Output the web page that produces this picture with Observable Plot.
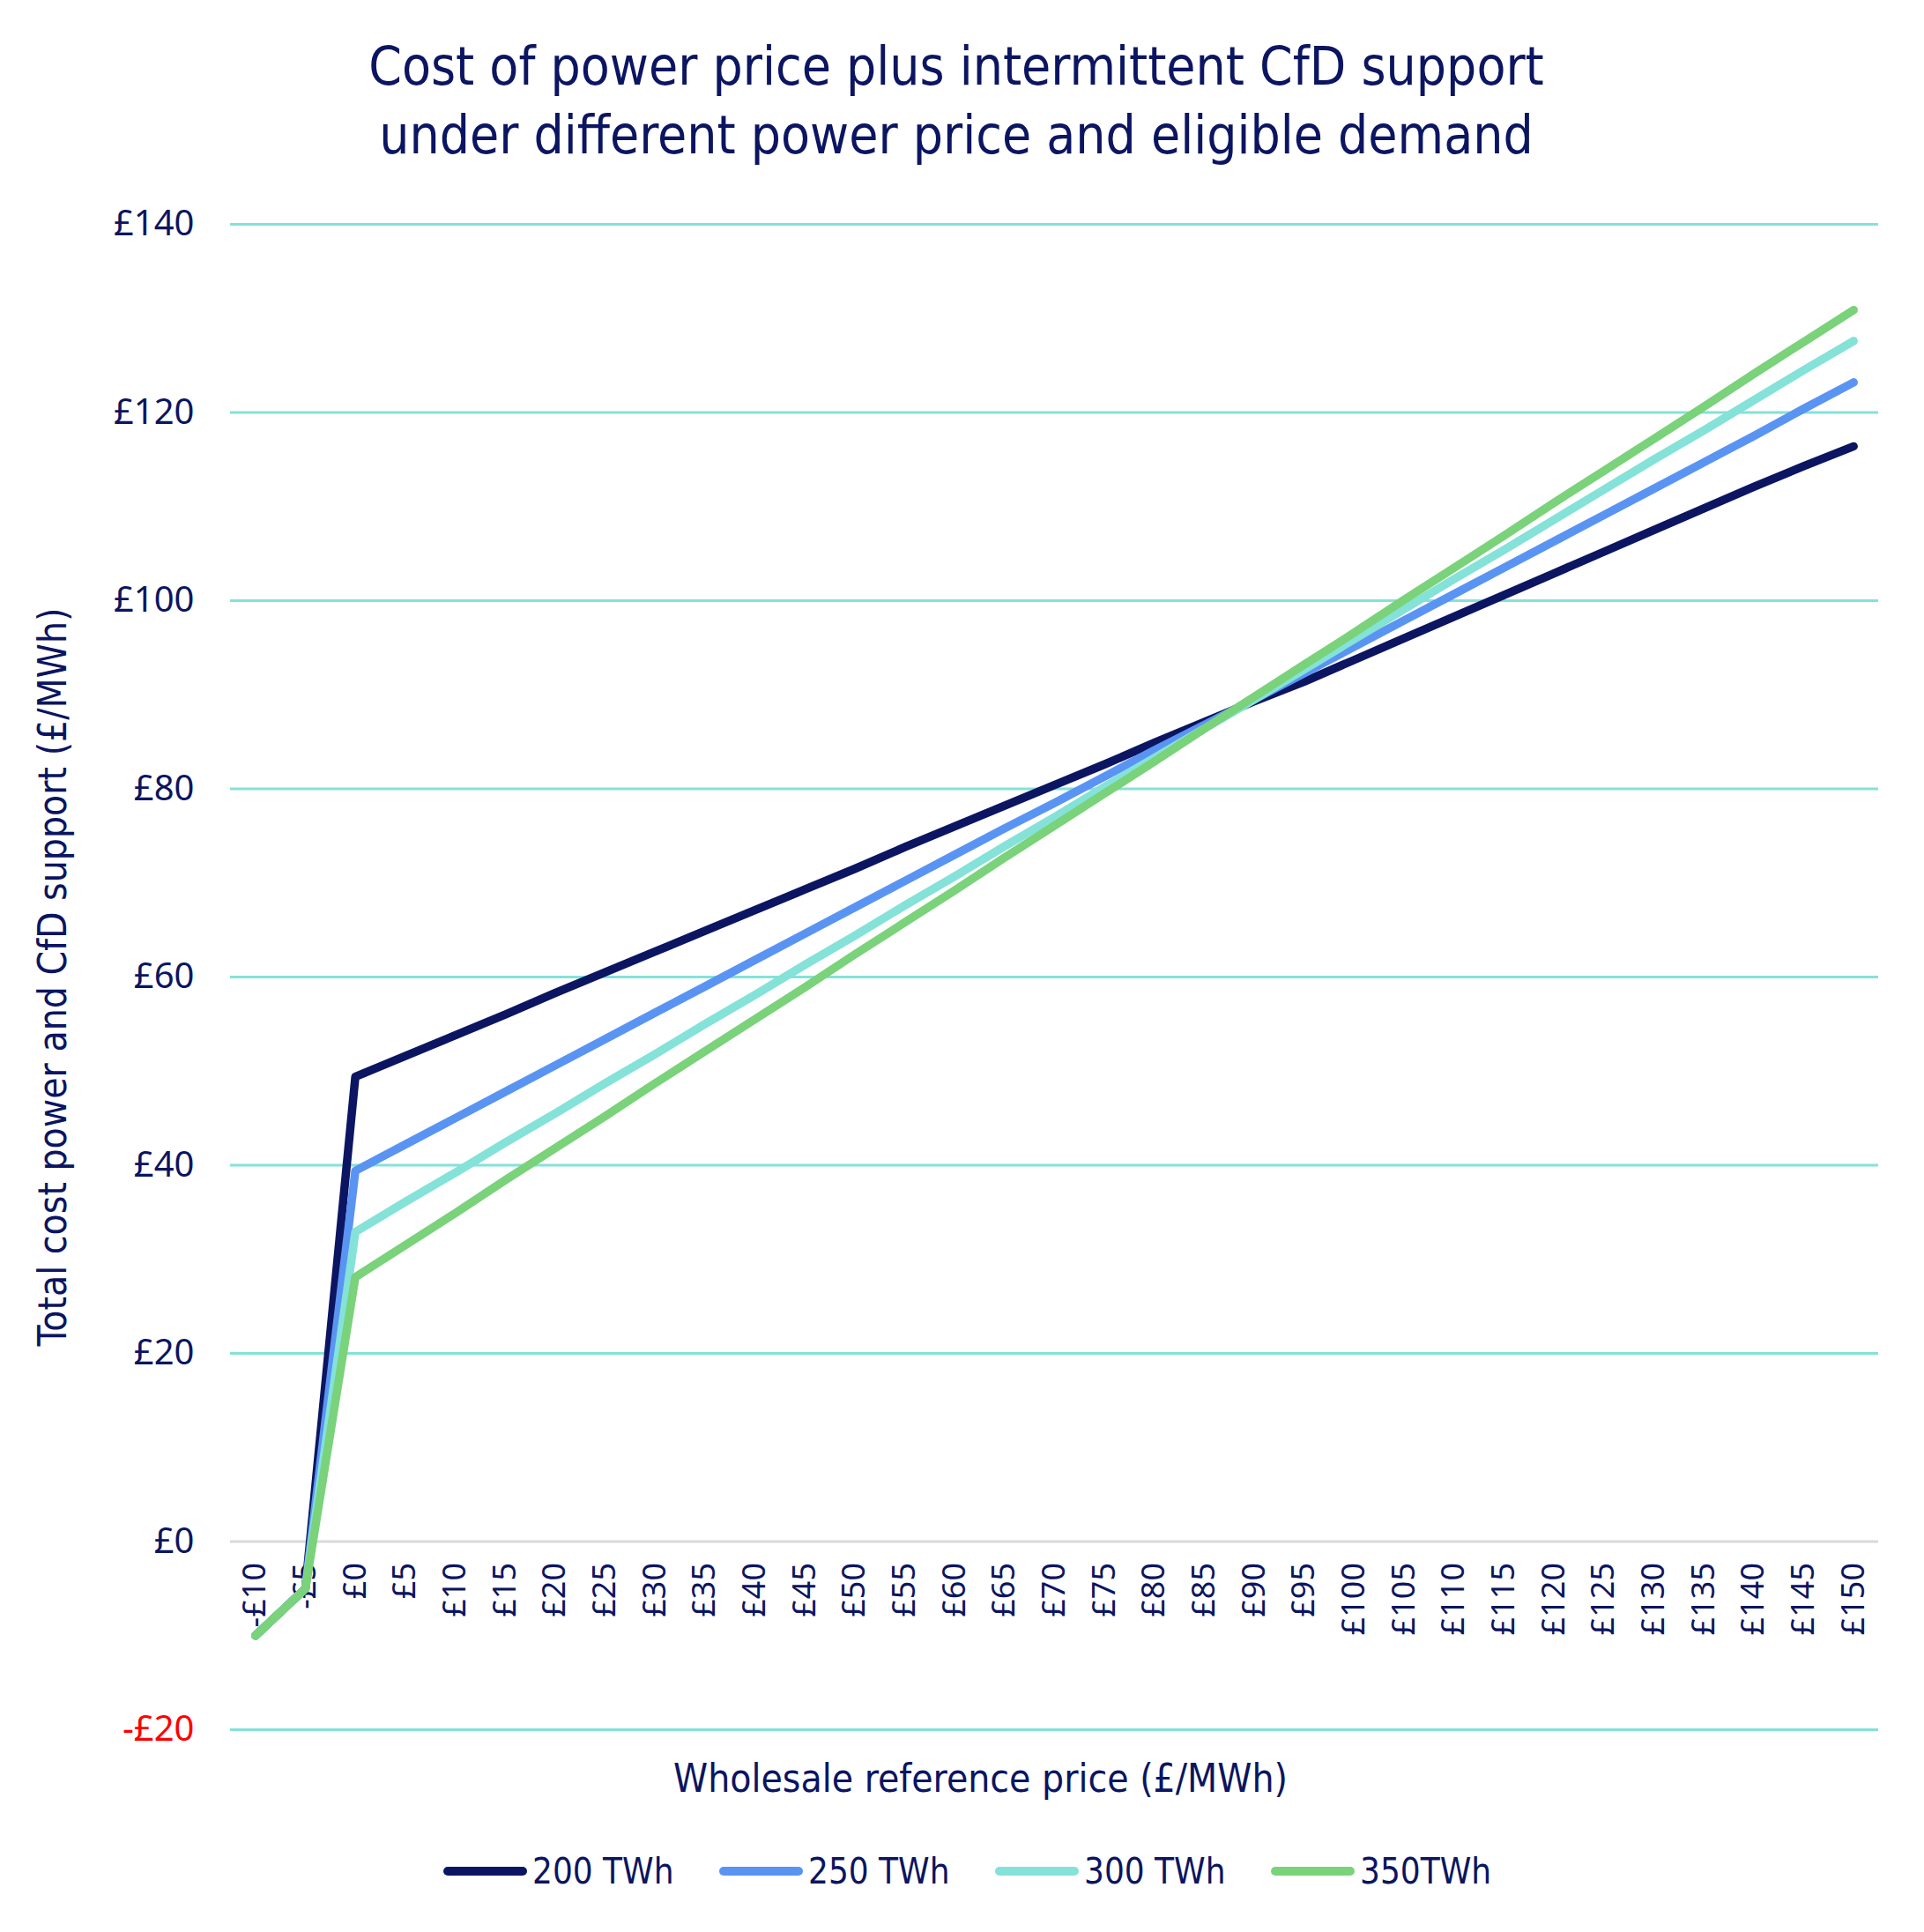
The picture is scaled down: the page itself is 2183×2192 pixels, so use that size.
<!DOCTYPE html>
<html><head><meta charset="utf-8">
<script src="https://cdn.jsdelivr.net/npm/d3@7"></script>
<script src="https://cdn.jsdelivr.net/npm/@observablehq/plot@0.6"></script>
<style>
body{margin:0;background:#fff;width:2183px;height:2192px;position:relative;overflow:hidden}
.cond{font-family:"Liberation Sans Narrow","DejaVu Sans Condensed","Roboto Condensed","Open Sans",sans-serif;font-stretch:condensed;color:#0b1561}
#title{position:absolute;left:0;width:2170px;top:36px;text-align:center;font-size:60px;line-height:78px}
#chart{position:absolute;left:0;top:200px}
#legend{position:absolute;top:2098px;left:503px;display:flex}
.item{display:flex;align-items:center;width:313px;font-size:40px;height:50px}
.sw{width:95px;height:10px;border-radius:5px;margin-right:6px}
</style></head>
<body>
<div id="title" class="cond">Cost of power price plus intermittent CfD support<br>under different power price and eligible demand</div>
<div id="chart"></div>
<div id="legend" class="cond"></div>
<script>
const prices = [-10,-5,0,5,10,15,20,25,30,35,40,45,50,55,60,65,70,75,80,85,90,95,100,105,110,115,120,125,130,135,140,145,150];
const yTicks = [-20,0,20,40,60,80,100,120,140];
const series = ["200 TWh","250 TWh","300 TWh","350TWh"];
const colors = ["#0b1561","#5a94f3","#84e2d8","#7ad27a"];
const v200 = [-10,-5,49.4,51.6,53.8,56.0,58.3,60.5,62.7,64.9,67.1,69.3,71.5,73.8,76.0,78.2,80.4,82.6,84.9,87.1,89.3,91.4,93.7,96.0,98.3,100.6,102.9,105.2,107.5,109.8,112.1,114.3,116.4];
const v250 = [-10,-5,39.4,42.2,45.0,47.8,50.6,53.4,56.2,59.0,61.8,64.6,67.4,70.2,73.0,75.8,78.5,81.3,84.1,86.8,89.5,92.3,95.1,97.9,100.7,103.5,106.3,109.1,111.9,114.7,117.5,120.4,123.2];
const v300 = [-10,-5,32.9,36.1,39.2,42.4,45.5,48.7,51.8,55.0,58.1,61.3,64.4,67.6,70.7,73.9,77.0,80.2,83.3,86.4,89.5,92.7,95.9,99.1,102.3,105.4,108.6,111.8,115.0,118.1,121.3,124.5,127.6];
const v350 = [-10,-5,28.1,31.5,34.9,38.4,41.8,45.2,48.7,52.1,55.5,58.9,62.4,65.8,69.2,72.7,76.1,79.5,82.9,86.4,89.8,93.2,96.6,100.1,103.5,106.9,110.4,113.8,117.2,120.6,124.1,127.5,130.9];
const yTitle = "Total cost power and CfD support (£/MWh)";
const xTitle = "Wholesale reference price (£/MWh)";

const navy = "#0b1561";
const condFont = '"Liberation Sans Narrow","DejaVu Sans Condensed","Roboto Condensed","Open Sans",sans-serif';
const fmt = d => (d < 0 ? "-£" + (-d) : "£" + d);
const values = [v200, v250, v300, v350];
const data = [];
prices.forEach((p, i) => values.forEach((arr, j) => data.push({price: p, value: arr[i], series: series[j]})));

const chart = Plot.plot({
  width: 2183, height: 1860,
  marginLeft: 261, marginRight: 52, marginTop: 54, marginBottom: 98,
  x: {domain: [-12.5, 152.5], axis: null},
  y: {domain: [-20, 140], axis: null},
  color: {domain: series, range: colors},
  style: {background: "white", fontFamily: "'Noto Sans', sans-serif"},
  marks: [
    Plot.ruleY(yTicks.filter(d => d !== 0), {y: d => d, stroke: "#84e2d8", strokeWidth: 3}),
    Plot.ruleY([0], {y: d => d, stroke: "#d9d9d9", strokeWidth: 3}),
    Plot.text(yTicks.filter(d => d >= 0), {y: d => d, frameAnchor: "left", dx: -41, textAnchor: "end", text: fmt, fill: navy, fontSize: 40}),
    Plot.text(yTicks.filter(d => d < 0), {y: d => d, frameAnchor: "left", dx: -41, textAnchor: "end", text: fmt, fill: "#ff0000", fontSize: 40}),
    Plot.text(prices, {x: d => d, y: () => 0, dy: 24, rotate: -90, textAnchor: "end", text: fmt, fill: navy, fontSize: 36}),
    Plot.line(data, {x: "price", y: "value", z: "series", stroke: "series", strokeWidth: 9.5, strokeLinecap: "round", strokeLinejoin: "round"}),
    Plot.text([yTitle], {frameAnchor: "left", dx: -201, rotate: -90, textAnchor: "middle", text: d => d, fill: navy, fontSize: 44, fontFamily: condFont, fontStretch: "condensed"}),
    Plot.text([xTitle], {frameAnchor: "bottom", dy: 70, dx: -84, textAnchor: "middle", text: d => d, fill: navy, fontSize: 44, fontFamily: condFont, fontStretch: "condensed"})
  ]
});
document.getElementById("chart").appendChild(chart);

const legend = document.getElementById("legend");
series.forEach((s, i) => {
  const it = document.createElement("div");
  it.className = "item";
  const sw = document.createElement("div");
  sw.className = "sw";
  sw.style.background = colors[i];
  const t = document.createElement("span");
  t.textContent = s;
  it.appendChild(sw); it.appendChild(t);
  legend.appendChild(it);
});
</script>
</body></html>
